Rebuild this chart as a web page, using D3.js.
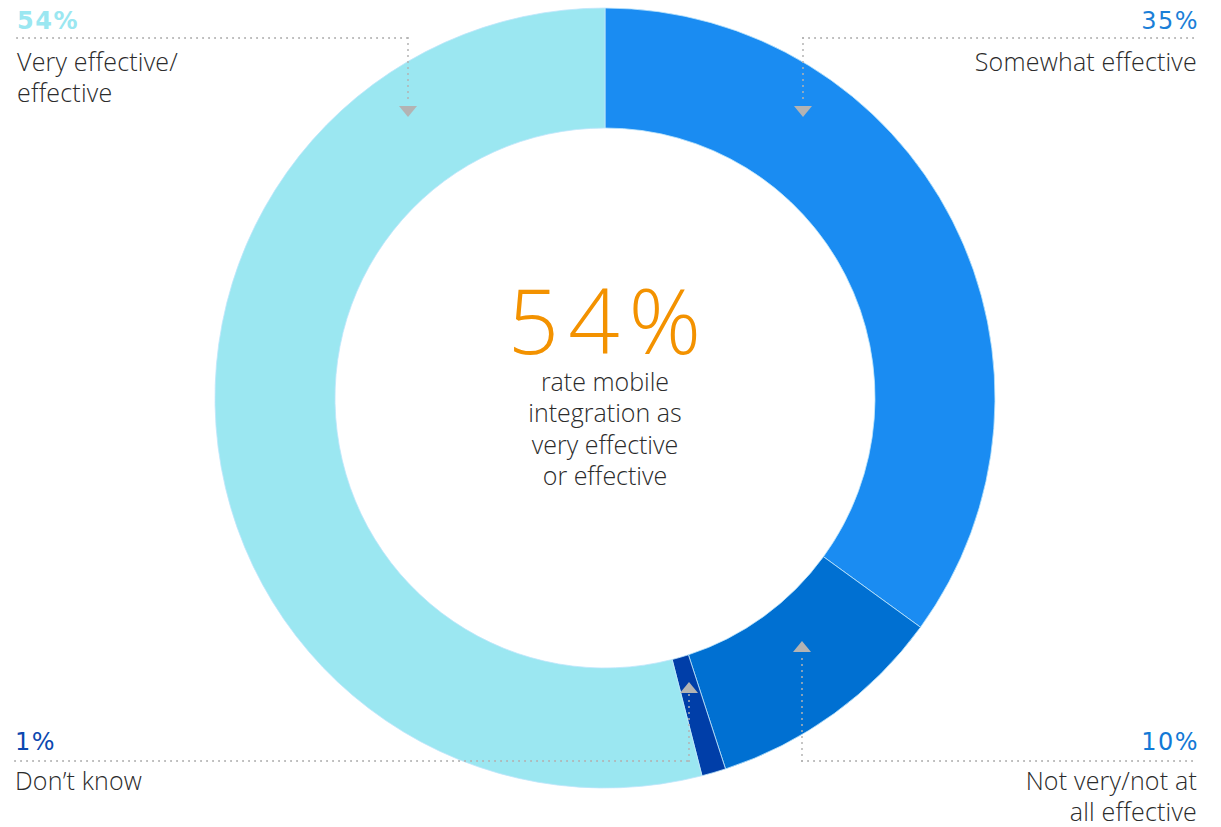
<!DOCTYPE html>
<html><head><meta charset="utf-8">
<script src="https://cdn.jsdelivr.net/npm/d3@7"></script>
<style>
html,body{margin:0;padding:0;background:#fff;}
svg{display:block;}
text{font-family:"Open Sans","Noto Sans",sans-serif;}
</style></head>
<body>
<svg id="chart" width="1221" height="827"></svg>
<script>
const categories = ["Somewhat effective", "Not very/not at all effective", "Don’t know", "Very effective/effective"];
const values = [35, 10, 1, 54];
const valueLabels = ["35%", "10%", "1%", "54%"];
const sliceColors = ["#1a8cf2", "#0070d2", "#003ea8", "#9be7f1"];
const labelColors = ["#1b7fd8", "#1279d6", "#0b48b0", "#9be7f1"];
const centerValue = "54%";
const centerText = ["rate mobile", "integration as", "very effective", "or effective"];

const svg = d3.select("#chart");
const cx = 605, cy = 398, rOuter = 390, rInner = 270;

const pie = d3.pie().sort(null).value(d => d)(values);
const arc = d3.arc().innerRadius(rInner).outerRadius(rOuter);
const g = svg.append("g").attr("transform", `translate(${cx},${cy})`);
g.selectAll("path").data(pie).join("path")
  .attr("d", arc)
  .attr("fill", (d, i) => sliceColors[i])
  .attr("stroke", "#bfe6fb").attr("stroke-width", 0.8);

// callouts: label config (layout only)
const layout = [
  {anchor: "end", x: 1197, pctY: 29, lineY: 38, lines: ["Somewhat effective"], textY: 71, vx: 803, vEnd: 104, dir: 1},
  {anchor: "end", x: 1197, pctY: 750, lineY: 761, lines: ["Not very/not at", "all effective"], textY: 790, vx: 802, vEnd: 653, dir: -1},
  {anchor: "start", x: 15, pctY: 750, lineY: 761, lines: ["Don’t know"], textY: 790, vx: 689, vEnd: 694, dir: -1},
  {anchor: "start", x: 17, pctY: 29, lineY: 38, lines: ["Very effective/", "effective"], textY: 71, vx: 408, vEnd: 104, dir: 1}
];

const dotted = {stroke: "#b3b3b3", "stroke-width": 2, "stroke-dasharray": "0.1,5.9", "stroke-linecap": "round"};
function applyAttrs(sel, a){ Object.entries(a).forEach(([k,v]) => sel.attr(k, v)); return sel; }

layout.forEach((L, i) => {
  const x0 = L.anchor === "end" ? L.vx : L.x;
  const x1 = L.anchor === "end" ? L.x : L.vx;
  applyAttrs(svg.append("line").attr("x1", x0).attr("x2", x1).attr("y1", L.lineY).attr("y2", L.lineY), dotted);
  applyAttrs(svg.append("line").attr("x1", L.vx).attr("x2", L.vx).attr("y1", L.lineY).attr("y2", L.vEnd), dotted);
  const tip = L.dir === 1 ? L.vEnd + 13 : L.vEnd - 12;
  const base = L.dir === 1 ? L.vEnd + 2 : L.vEnd - 1;
  svg.append("path")
    .attr("d", `M${L.vx - 9},${base} L${L.vx + 9},${base} L${L.vx},${tip} Z`)
    .attr("fill", "#b3b3b3");
  const endShift = L.anchor === "end" ? 2 : 0;
  svg.append("text").attr("x", L.x + endShift).attr("y", L.pctY)
    .attr("text-anchor", L.anchor).attr("font-size", 24)
    .style("font-family", "'DejaVu Sans', sans-serif")
    .attr("letter-spacing", 1.5)
    .attr("font-weight", i === 3 ? 700 : 400)
    .attr("fill", labelColors[i]).text(valueLabels[i]);
  const lbl = svg.append("text").attr("text-anchor", L.anchor).attr("font-size", 25)
    .attr("font-weight", 300).attr("fill", "#2b2b2b").attr("letter-spacing", 0.2);
  L.lines.forEach((t, j) => {
    lbl.append("tspan").attr("x", L.x).attr("y", L.textY + j * 31).text(t);
  });
});

svg.append("text").attr("x", 609).attr("y", 354).attr("text-anchor", "middle")
  .attr("font-size", 90).attr("font-weight", 300).attr("fill", "#f39200")
  .attr("letter-spacing", 9).text(centerValue);
const ct = svg.append("text").attr("text-anchor", "middle").attr("font-size", 25)
  .attr("font-weight", 300).attr("fill", "#2b2b2b");
centerText.forEach((t, j) => ct.append("tspan").attr("x", 605).attr("y", 391 + j * 31.3).text(t));
</script>
</body></html>
